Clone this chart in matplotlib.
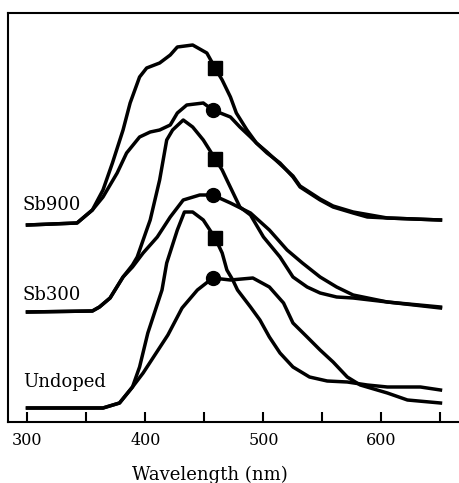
import matplotlib.pyplot as plt
import numpy as np

plt.rcParams['font.family'] = ['DejaVu Serif']

# espectros (intensidad en unidades arbitrarias, con desplazamiento)
undoped_sq_wl = [300, 364, 378, 389, 395, 402, 414, 418, 427, 433, 440, 449, 459, 465, 469, 474,
                 478, 489, 497, 505, 514, 525, 539, 554, 571, 588, 605, 633, 650]
undoped_sq_i = [14, 14, 19, 35, 55, 89, 132, 159, 192, 210, 210, 202, 184, 169, 152, 142,
                132, 115, 102, 85, 69, 55, 45, 41, 40, 37, 35, 35, 32]

undoped_ci_wl = [300, 364, 378, 389, 398, 419, 431, 444, 457, 472, 491, 505, 517, 525, 537,
                 548, 559, 571, 582, 605, 622, 650]
undoped_ci_i = [14, 14, 19, 35, 49, 87, 114, 132, 144, 142, 144, 135, 119, 99, 85,
                72, 60, 45, 37, 29, 22, 19]

sb300_sq_wl = [300, 355, 361, 370, 381, 389, 393, 401, 404, 412, 418, 423, 432, 440, 449, 457,
               465, 469, 480, 489, 500, 514, 525, 537, 548, 562, 576, 605, 650]
sb300_sq_i = [110, 111, 115, 124, 145, 157, 165, 192, 202, 242, 282, 292, 302, 295, 282, 267,
              252, 242, 215, 207, 185, 165, 145, 135, 129, 125, 124, 120, 114]

sb300_ci_wl = [300, 355, 361, 370, 381, 389, 398, 410, 421, 432, 446, 457, 472, 489, 505,
               520, 533, 548, 562, 576, 605, 650]
sb300_ci_i = [110, 111, 115, 124, 145, 155, 169, 185, 205, 222, 227, 227, 219, 209, 192,
              172, 159, 145, 135, 127, 120, 115]

sb900_sq_wl = [300, 342, 355, 364, 372, 381, 387, 395, 401, 412, 421, 427, 440, 452, 460, 465,
               472, 477, 486, 494, 503, 514, 525, 531, 548, 559, 576, 588, 605, 650]
sb900_sq_i = [197, 199, 212, 232, 259, 292, 319, 345, 354, 359, 367, 375, 377, 369, 352, 342,
              325, 309, 292, 279, 269, 259, 245, 235, 222, 215, 209, 205, 204, 202]

sb900_ci_wl = [300, 342, 355, 364, 376, 384, 395, 404, 412, 421, 427, 435, 449, 457, 472, 480,
               489, 494, 503, 514, 525, 531, 548, 559, 576, 605, 650]
sb900_ci_i = [197, 199, 212, 225, 249, 269, 285, 290, 292, 297, 309, 317, 319, 312, 305, 295,
              285, 279, 270, 258, 246, 236, 223, 216, 210, 204, 202]

# longitud de onda donde va el marcador de cada curva
marca_sq = 459
marca_ci = 457

etiquetas = ['Sb900', 'Sb300', 'Undoped']
etiqueta_y = [212, 122, 35]

curvas = [
    (undoped_sq_wl, undoped_sq_i, 's', marca_sq),
    (undoped_ci_wl, undoped_ci_i, 'o', marca_ci),
    (sb300_sq_wl, sb300_sq_i, 's', marca_sq),
    (sb300_ci_wl, sb300_ci_i, 'o', marca_ci),
    (sb900_sq_wl, sb900_sq_i, 's', marca_sq),
    (sb900_ci_wl, sb900_ci_i, 'o', marca_ci),
]

fig = plt.figure(figsize=(4.59, 4.83), dpi=100)
ax = fig.add_axes([8 / 459, 1 - 422 / 483, 451 / 459, 409 / 483])

for wl, inten, mk, mwl in curvas:
    ax.plot(wl, inten, color='black', lw=2.5, solid_joinstyle='round')
    ax.plot([mwl], [np.interp(mwl, wl, inten)], marker=mk, ms=10, color='black', ls='none')

for texto, y in zip(etiquetas, etiqueta_y):
    ax.text(296, y, texto, fontsize=13, ha='left', va='baseline')

ax.set_xlim(283.5, 665.7)
ax.set_ylim(0, 409)
ax.set_xticks([300, 400, 500, 600])
ax.set_xticks([350, 450, 550, 650], minor=True)
ax.tick_params(axis='x', which='both', direction='in', length=7, width=1.5,
               labelsize=11.5, pad=7)
ax.set_yticks([])
ax.spines['right'].set_visible(False)
for s in ['left', 'top', 'bottom']:
    ax.spines[s].set_linewidth(1.5)

ax.set_xlabel('Wavelength (nm)', fontsize=13)
ax.xaxis.set_label_coords(0.448, -0.108)

plt.savefig('out.png', dpi=100)
